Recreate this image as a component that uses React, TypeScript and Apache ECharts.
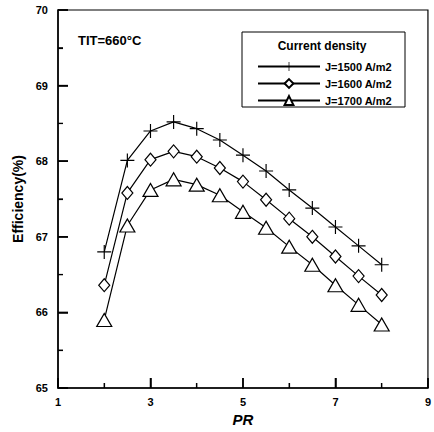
import React, { useEffect, useRef } from "react";
import * as echarts from "echarts";

const prValues = [2, 2.5, 3, 3.5, 4, 4.5, 5, 5.5, 6, 6.5, 7, 7.5, 8];
const eff1500 = [66.8, 68.01, 68.4, 68.52, 68.43, 68.28, 68.08, 67.87, 67.62, 67.38, 67.13, 66.88, 66.63];
const eff1600 = [66.36, 67.58, 68.02, 68.13, 68.06, 67.91, 67.73, 67.49, 67.24, 67.0, 66.74, 66.48, 66.23];
const eff1700 = [65.9, 67.15, 67.62, 67.76, 67.69, 67.55, 67.33, 67.12, 66.87, 66.63, 66.36, 66.1, 65.84];
const seriesNames = ["J=1500 A/m2", "J=1600 A/m2", "J=1700 A/m2"];
const legendTitle = "Current density";
const noteText = "TIT=660°C";

const xMin = 1;
const xMax = 9;
const yMin = 65;
const yMax = 70;
const xMajorTicks = [1, 3, 5, 7, 9];
const xMinorTicks = [2, 4, 6, 8];
const yMajorTicks = [65, 66, 67, 68, 69, 70];
const yMinorTicks = [65.5, 66.5, 67.5, 68.5, 69.5];

const FONT = "Arial, 'Liberation Sans', sans-serif";
const PLUS = "path://M5.5,0 L6.5,0 L6.5,5.5 L12,5.5 L12,6.5 L6.5,6.5 L6.5,12 L5.5,12 L5.5,6.5 L0,6.5 L0,5.5 L5.5,5.5 Z";

export default function App() {
  const ref = useRef<HTMLDivElement>(null);
  useEffect(() => {
    if (!ref.current) return;
    const chart = echarts.init(ref.current, null, { renderer: "svg" });
    const pair = (ys: number[]) => prValues.map((x, i) => [x, ys[i]]);
    const MAJOR = 10;
    const MINOR = 5;
    const baseGraphic: any[] = [
      {
        id: "legendBox",
        type: "rect",
        shape: { x: 242, y: 32, width: 163, height: 75 },
        style: { fill: "#fff", stroke: "#000", lineWidth: 1 },
        z: 0,
      },
      {
        id: "legendTitle",
        type: "text",
        x: 322,
        y: 46,
        style: { text: legendTitle, fill: "#000", font: `bold 12px ${FONT}`, align: "center", verticalAlign: "middle" },
        z: 10,
      },
      {
        id: "note",
        type: "text",
        x: 78,
        y: 40,
        style: { text: noteText, fill: "#000", font: `bold 13px ${FONT}`, align: "left", verticalAlign: "middle" },
        z: 10,
      },
    ];
    const axisTickCfg = { show: true, inside: true, length: MAJOR, lineStyle: { color: "#000", width: 1.5 } };
    const minorTickCfg = { show: true, splitNumber: 2, length: MINOR, lineStyle: { color: "#000", width: 1.2 } };
    chart.setOption({
      animation: false,
      backgroundColor: "#fff",
      grid: { left: 58, right: 2, top: 10, bottom: 44, show: true, borderColor: "#000", borderWidth: 1.2 },
      xAxis: {
        type: "value",
        min: xMin,
        max: xMax,
        interval: 2,
        axisLine: { show: true, onZero: false, lineStyle: { color: "#000", width: 1.5 } },
        axisTick: axisTickCfg,
        minorTick: minorTickCfg,
        splitLine: { show: false },
        axisLabel: { color: "#000", fontFamily: FONT, fontWeight: "bold", fontSize: 11, margin: 8 },
        name: "PR",
        nameLocation: "middle",
        nameGap: 19,
        nameTextStyle: { color: "#000", fontFamily: FONT, fontWeight: "bold", fontStyle: "italic", fontSize: 15 },
      },
      yAxis: {
        type: "value",
        min: yMin,
        max: yMax,
        interval: 1,
        axisLine: { show: true, onZero: false, lineStyle: { color: "#000", width: 1.5 } },
        axisTick: axisTickCfg,
        minorTick: minorTickCfg,
        splitLine: { show: false },
        axisLabel: { color: "#000", fontFamily: FONT, fontWeight: "bold", fontSize: 11, margin: 10 },
        name: "Efficiency(%)",
        nameLocation: "middle",
        nameGap: 32,
        nameTextStyle: { color: "#000", fontFamily: FONT, fontWeight: "bold", fontSize: 14 },
      },
      legend: {
        orient: "vertical",
        left: 252,
        top: 56,
        itemWidth: 62,
        itemHeight: 11,
        itemGap: 6,
        textStyle: { color: "#000", fontFamily: FONT, fontWeight: "bold", fontSize: 11 },
        data: seriesNames,
      },
      graphic: baseGraphic,
      series: [
        {
          name: seriesNames[0],
          type: "line",
          data: pair(eff1500),
          symbol: PLUS,
          symbolSize: 14,
          lineStyle: { color: "#000", width: 1.2 },
          itemStyle: { color: "#000" },
        },
        {
          name: seriesNames[1],
          type: "line",
          data: pair(eff1600),
          symbol: "diamond",
          symbolSize: [11, 13],
          lineStyle: { color: "#000", width: 1.2 },
          itemStyle: { color: "#fff", borderColor: "#000", borderWidth: 1.2 },
        },
        {
          name: seriesNames[2],
          type: "line",
          data: pair(eff1700),
          symbol: "triangle",
          symbolSize: [15, 13],
          lineStyle: { color: "#000", width: 1.2 },
          itemStyle: { color: "#fff", borderColor: "#000", borderWidth: 1.2 },
        },
      ],
    });

    // Tick marks pointing inward, positioned through the chart's own scales.
    const tickGraphic: any[] = [];
    const addX = (v: number, len: number, k: string) => {
      const p = chart.convertToPixel({ gridIndex: 0 }, [v, yMin]) as number[];
      tickGraphic.push({
        id: `xt${k}${v}`,
        type: "line",
        shape: { x1: p[0], y1: p[1], x2: p[0], y2: p[1] - len },
        style: { stroke: "#000", lineWidth: len === MAJOR ? 1.5 : 1.2 },
        z: 20,
        silent: true,
      });
    };
    const addY = (v: number, len: number, k: string) => {
      const p = chart.convertToPixel({ gridIndex: 0 }, [xMin, v]) as number[];
      tickGraphic.push({
        id: `yt${k}${v}`,
        type: "line",
        shape: { x1: p[0], y1: p[1], x2: p[0] + len, y2: p[1] },
        style: { stroke: "#000", lineWidth: len === MAJOR ? 1.5 : 1.2 },
        z: 20,
        silent: true,
      });
    };
    xMajorTicks.forEach((v) => addX(v, MAJOR, "M"));
    xMinorTicks.forEach((v) => addX(v, MINOR, "m"));
    yMajorTicks.forEach((v) => addY(v, MAJOR, "M"));
    yMinorTicks.forEach((v) => addY(v, MINOR, "m"));
    chart.setOption({ graphic: [...baseGraphic, ...tickGraphic] });

    return () => chart.dispose();
  }, []);
  return (
    <div
      ref={ref}
      style={{ position: "absolute", left: 0, top: 0, width: 434, height: 432 }}
    />
  );
}
